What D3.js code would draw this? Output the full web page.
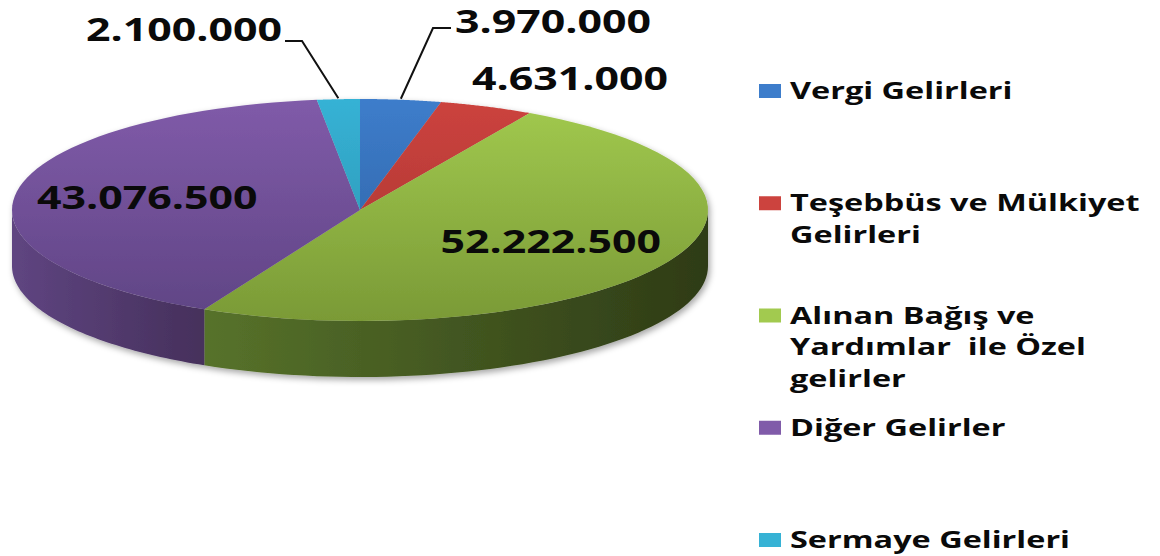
<!DOCTYPE html>
<html lang="tr">
<head>
    <meta charset="UTF-8">
    <title>Gelirler 3D pasta</title>
    <script src="https://d3js.org/d3.v7.min.js"></script>
    <style>
        body { margin: 0; background: #fff; }
        text {
            font-family: "Open Sans", "Noto Sans", sans-serif;
            font-weight: 700;
            fill: #0a0a0a;
            white-space: pre;
        }
        .leader {
            stroke: #111;
            stroke-width: 2;
            fill: none;
        }
    </style>
</head>
<body>
<svg height="556" width="1160"></svg>

<script>
    // data
    const categories = [
        "Vergi Gelirleri",
        "Teşebbüs ve Mülkiyet Gelirleri",
        "Alınan Bağış ve Yardımlar  ile Özel gelirler",
        "Diğer Gelirler",
        "Sermaye Gelirleri"
    ];
    const legendLines = [
        ["Vergi Gelirleri"],
        ["Teşebbüs ve Mülkiyet", "Gelirleri"],
        ["Alınan Bağış ve", "Yardımlar  ile Özel", "gelirler"],
        ["Diğer Gelirler"],
        ["Sermaye Gelirleri"]
    ];
    const values = [3970000, 4631000, 52222500, 43076500, 2100000];

    // colours: [top light, top dark, wall light, wall dark]
    const colors = [
        ["#3d7dcb", "#2d5e9e", "#2c5a94", "#1f4272"],
        ["#cc433e", "#a53330", "#9a302d", "#702220"],
        ["#a2ca4f", "#7a9a36", "#58742b", "#2e3b16"],
        ["#805ba9", "#5f4484", "#5f4581", "#46305c"],
        ["#36b2d5", "#2a8fac", "#2a8fac", "#1d6a80"]
    ];

    // layout
    const cx = 360, cy = 210, rx = 348, ry = 111, depth = 56;
    const outerLabels = {
        0: {x: 455, y: 33, anchor: "start", leader: [[433, 28], [451, 28]]},
        1: {x: 472, y: 90, anchor: "start", leader: null},
        4: {x: 282, y: 41, anchor: "end",   leader: [[302, 41], [285, 41]]}
    };
    const sx = 1.34;

    const svg = d3.select("svg");
    const fmt = d3.formatLocale({decimal: ",", thousands: ".", grouping: [3], currency: ["", ""]}).format(",d");

    const pt = (a, k = 1, dz = 0) => [cx + rx * k * Math.sin(a), cy - ry * k * Math.cos(a) + dz];
    const line = d3.line();
    const arcPts = (a0, a1, dz = 0) => d3.range(0, 61).map(i => pt(a0 + (a1 - a0) * i / 60, 1, dz));

    const arcs = d3.pie().sort(null).value(d => d)(values);

    const defs = svg.append("defs");
    const shadow = defs.append("filter").attr("id", "shadow")
        .attr("x", "-10%").attr("y", "-10%").attr("width", "120%").attr("height", "130%");
    shadow.append("feDropShadow").attr("dx", 2).attr("dy", 3).attr("stdDeviation", 3)
        .attr("flood-color", "#000").attr("flood-opacity", 0.35);

    colors.forEach((c, i) => {
        const gTop = defs.append("linearGradient").attr("id", "top" + i)
            .attr("gradientUnits", "userSpaceOnUse")
            .attr("x1", 0).attr("y1", cy - ry).attr("x2", 0).attr("y2", cy + ry);
        gTop.append("stop").attr("offset", 0).attr("stop-color", c[0]);
        gTop.append("stop").attr("offset", 1).attr("stop-color", c[1]);
        const gWall = defs.append("linearGradient").attr("id", "wall" + i)
            .attr("gradientUnits", "userSpaceOnUse")
            .attr("x1", i === 3 ? cx - rx : 190).attr("y1", 0)
            .attr("x2", i === 3 ? 200 : cx + rx).attr("y2", 0);
        gWall.append("stop").attr("offset", 0).attr("stop-color", c[2]);
        gWall.append("stop").attr("offset", 1).attr("stop-color", c[3]);
    });

    const pie = svg.append("g").attr("filter", "url(#shadow)");

    // front walls
    arcs.forEach((d, i) => {
        const a0 = Math.max(d.startAngle, Math.PI / 2);
        const a1 = Math.min(d.endAngle, 3 * Math.PI / 2);
        if (a0 >= a1) return;
        const pts = arcPts(a0, a1).concat(arcPts(a1, a0, depth));
        pie.append("path").attr("d", line(pts) + "Z").attr("fill", `url(#wall${i})`);
    });

    // top faces
    pie.selectAll("path.top")
       .data(arcs)
          .join("path").attr("class", "top")
            .attr("d", d => line([[cx, cy]].concat(arcPts(d.startAngle, d.endAngle))) + "Z")
            .attr("fill", (d, i) => `url(#top${i})`);

    // labels
    arcs.forEach((d, i) => {
        const mid = (d.startAngle + d.endAngle) / 2;
        const o = outerLabels[i];
        let x, y, anchor;
        if (o) {
            x = o.x; y = o.y; anchor = o.anchor;
            if (o.leader) {
                const edge = pt(mid, 1, -1);
                svg.append("path").attr("class", "leader")
                   .attr("d", line([o.leader[1], o.leader[0], edge]));
            }
        } else {
            const c = pt(mid, 0.62);
            x = c[0]; y = c[1] + 11; anchor = "middle";
        }
        svg.append("text")
           .attr("transform", `translate(${x},${y}) scale(${sx},1)`)
           .attr("text-anchor", anchor)
           .attr("font-size", 32)
           .text(fmt(d.data));
    });

    // legend
    const ly = d3.scaleLinear().domain([0, categories.length - 1]).range([91, 540]);
    const legend = svg.selectAll("g.legend")
       .data(categories)
          .join("g").attr("class", "legend")
            .attr("transform", (d, i) => `translate(759,${ly(i)})`);
    legend.append("rect")
        .attr("x", 0).attr("y", -7).attr("width", 22).attr("height", 14)
        .attr("fill", (d, i) => `url(#top${i})`);
    legend.each(function(d, i) {
        const t = d3.select(this).append("text")
            .attr("transform", `translate(31,8) scale(1.41,1)`)
            .attr("font-size", 23);
        legendLines[i].forEach((s, j) => {
            t.append("tspan").attr("x", 0).attr("dy", j ? 32 : 0).text(s);
        });
    });
</script>

</body>
</html>
